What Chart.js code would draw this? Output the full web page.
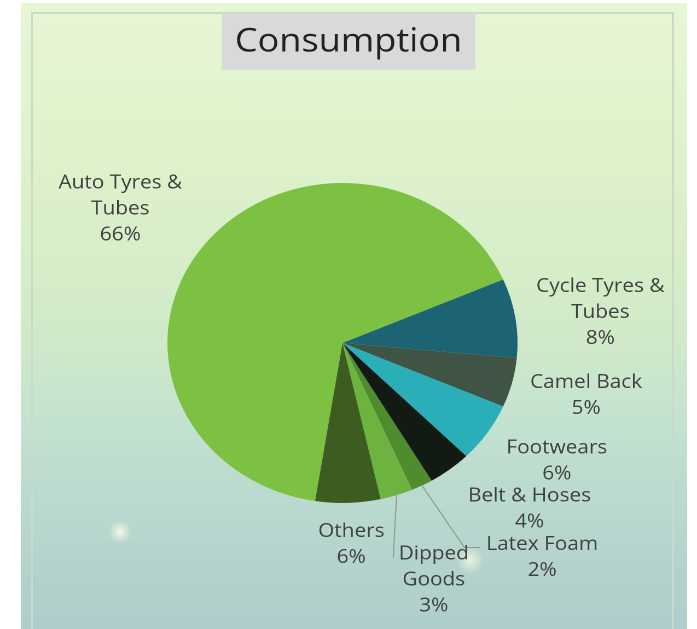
<!DOCTYPE html>
<html>
<head>
<meta charset="utf-8">
<title>Consumption</title>
<script src="https://cdn.jsdelivr.net/npm/chart.js@4.4.1/dist/chart.umd.min.js"></script>
<style>
    html, body { margin: 0; padding: 0; background: #fff; }
    #wrap { position: relative; width: 697px; height: 629px; overflow: hidden; }
    #panel {
        position: absolute; left: 21px; top: 3px; width: 666px; height: 640px;
        background:
            radial-gradient(circle at 99px 529px, rgba(255,255,232,0.95) 0, rgba(255,255,232,0.55) 4px, rgba(255,255,232,0) 12px),
            radial-gradient(circle at 449px 557px, rgba(255,255,225,0.7) 0, rgba(255,255,225,0) 14px),
            linear-gradient(to bottom, #e7f6d5 0px, #e1f3cd 120px, #d7eec8 250px, #cfe9c9 340px, #c3e2cf 420px, #bad9cf 500px, #b3d1cc 580px, #afcdcb 626px);
    }
    #frame { position: absolute; left: 31px; top: 12px; width: 639px; height: 640px; border: 2px solid #cbd8cc; }
    #chart { position: absolute; left: 0; top: 0; width: 697px; height: 629px; }
</style>
</head>
<body>
<div id="wrap">
    <div id="panel"></div>
    <div id="frame"></div>
    <canvas id="chart" width="637" height="629" style="width:697px;height:629px"></canvas>
</div>
<script>
const titleText = 'Consumption';
const categories = ['Auto Tyres & Tubes', 'Cycle Tyres & Tubes', 'Camel Back', 'Footwears', 'Belt & Hoses', 'Latex Foam', 'Dipped Goods', 'Others'];
const shares = [66, 8, 5, 6, 4, 2, 3, 6];
const sliceColors = ['#7cc142', '#1c6373', '#3f5444', '#2aaeb8', '#121a14', '#4e8c2e', '#6db33f', '#3d5c20'];

const LABEL_FONT = '19px "Open Sans"';
const LINE_H = 26;

// where each label sits relative to its slice: distance in radii, angle nudge in degrees,
// wrap width, and an optional leader line bend
const labelLayout = [
    { dist: 1.52, nudge: -4.4, wrap: 140 },
    { dist: 1.485, nudge: 1.7, wrap: 140 },
    { dist: 1.43, nudge: -1.1, wrap: 140 },
    { dist: 1.43, nudge: -3.1, wrap: 140 },
    { dist: 1.49, nudge: -8, wrap: 140 },
    { dist: 1.76, nudge: -13.4, wrap: 140, leader: { bend: 20 } },
    { dist: 1.57, nudge: -1.4, wrap: 80, leader: { bend: 0 } },
    { dist: 1.26, nudge: -0.5, wrap: 140 }
];

function wrapText(ctx, text, maxWidth) {
    const words = text.split(' ');
    const lines = [];
    let line = '';
    words.forEach(word => {
        const test = line ? line + ' ' + word : word;
        if (line && ctx.measureText(test).width > maxWidth) {
            lines.push(line);
            line = word;
        } else {
            line = test;
        }
    });
    if (line) lines.push(line);
    return lines;
}

const titleBox = {
    id: 'titleBox',
    afterDraw(chart) {
        const ctx = chart.ctx;
        ctx.save();
        ctx.font = '33px "Open Sans"';
        const w = ctx.measureText(titleText).width;
        const cx = chart.width / 2;
        ctx.fillStyle = '#d9d9d9';
        ctx.fillRect(cx - w / 2 - 12, 13, w + 24, 57);
        ctx.fillStyle = '#222222';
        ctx.textAlign = 'center';
        ctx.textBaseline = 'middle';
        ctx.fillText(titleText, cx, 42);
        ctx.restore();
    }
};

const sliceLabels = {
    id: 'sliceLabels',
    afterDatasetsDraw(chart) {
        const ctx = chart.ctx;
        const arcs = chart.getDatasetMeta(0).data;
        const total = shares.reduce((a, b) => a + b, 0);
        ctx.save();
        ctx.font = LABEL_FONT;
        ctx.textAlign = 'center';
        ctx.textBaseline = 'middle';
        arcs.forEach((arc, i) => {
            const p = arc.getProps(['x', 'y', 'startAngle', 'endAngle', 'outerRadius'], true);
            const layout = labelLayout[i];
            const mid = (p.startAngle + p.endAngle) / 2;
            const a = mid + layout.nudge * Math.PI / 180;
            const lx = p.x + Math.cos(a) * p.outerRadius * layout.dist;
            const ly = p.y + Math.sin(a) * p.outerRadius * layout.dist;

            const lines = wrapText(ctx, categories[i], layout.wrap);
            lines.push(Math.round(shares[i] / total * 100) + '%');
            const top = ly - (lines.length - 1) * LINE_H / 2;
            const widest = Math.max(...lines.map(t => ctx.measureText(t).width));

            if (layout.leader) {
                const left = lx - widest / 2;
                const ex = p.x + Math.cos(mid) * p.outerRadius;
                const ey = p.y + Math.sin(mid) * p.outerRadius;
                ctx.strokeStyle = '#8c9a92';
                ctx.lineWidth = 1;
                ctx.beginPath();
                ctx.moveTo(ex, ey);
                if (layout.leader.bend) {
                    ctx.lineTo(left - layout.leader.bend, top + 3);
                    ctx.lineTo(left - 6, top + 3);
                } else {
                    ctx.lineTo(left - 5, top + 4);
                }
                ctx.stroke();
            }

            ctx.fillStyle = '#404040';
            lines.forEach((t, k) => ctx.fillText(t, lx, top + k * LINE_H));
        });
        ctx.restore();
    }
};

const canvas = document.getElementById('chart');
new Chart(canvas, {
    type: 'pie',
    data: {
        labels: categories,
        datasets: [{
            data: shares,
            backgroundColor: sliceColors,
            borderWidth: 0,
            hoverOffset: 0
        }]
    },
    options: {
        responsive: false,
        animation: false,
        devicePixelRatio: 2,
        rotation: 189,
        layout: {
            padding: { left: 153, right: 164, top: 183, bottom: 126 }
        },
        plugins: {
            legend: { display: false },
            tooltip: { enabled: false },
            title: { display: false }
        }
    },
    plugins: [titleBox, sliceLabels]
});
canvas.style.width = '697px';
canvas.style.height = '629px';
</script>
</body>
</html>
